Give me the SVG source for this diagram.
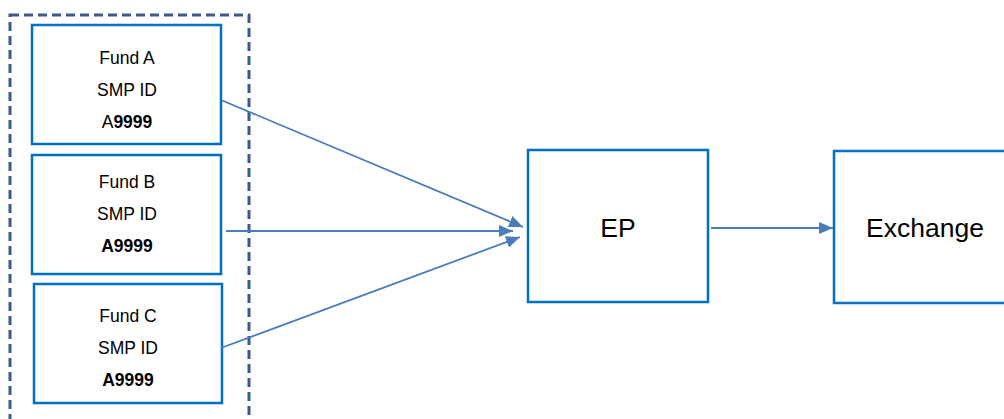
<svg xmlns="http://www.w3.org/2000/svg" width="1004" height="419" viewBox="0 0 1004 419">
<defs>
<marker id="ah" viewBox="0 0 14 12" refX="14" refY="6" markerWidth="14" markerHeight="12" markerUnits="userSpaceOnUse" orient="auto">
<path d="M0,0 L14,6 L0,12 Z" fill="#4a7ebb"/>
</marker>
<style>
.box{fill:#fff;stroke:#0070c0;stroke-width:2.5}
.grp{fill:none;stroke:#3d5a8a;stroke-width:3;stroke-dasharray:9,5}
.t{font-family:"Liberation Sans",Arial,sans-serif;font-size:17.5px;fill:#000;text-anchor:middle}
.b{font-weight:bold}
.big{font-family:"Liberation Sans",Arial,sans-serif;font-size:26.5px;fill:#000;text-anchor:middle}
.c{stroke:#4a7ebb;stroke-width:1.8;fill:none;marker-end:url(#ah)}
</style>
</defs>
<rect width="1004" height="419" fill="#fff"/>
<g id="group">
<rect class="grp" x="10" y="15" width="239" height="420"/>
</g>
<g id="fundA">
<rect class="box" x="32" y="25" width="189" height="119"/>
<text class="t" x="127" y="64">Fund A</text>
<text class="t" x="127" y="96">SMP ID</text>
<text class="t" x="127" y="128">A<tspan class="b">9999</tspan></text>
</g>
<g id="fundB">
<rect class="box" x="32" y="155" width="189" height="119"/>
<text class="t" x="127" y="188">Fund B</text>
<text class="t" x="127" y="220">SMP ID</text>
<text class="t b" x="127" y="252">A9999</text>
</g>
<g id="fundC">
<rect class="box" x="34" y="284" width="188" height="119"/>
<text class="t" x="128" y="322">Fund C</text>
<text class="t" x="128" y="354">SMP ID</text>
<text class="t b" x="128" y="386">A9999</text>
</g>
<g id="ep">
<rect class="box" x="528" y="150" width="180" height="152"/>
<text class="big" x="618" y="237">EP</text>
</g>
<g id="exchange">
<rect class="box" x="834" y="151" width="180" height="152"/>
<text class="big" x="925" y="237">Exchange</text>
</g>
<g id="connectors">
<line class="c" x1="221" y1="100" x2="523" y2="227"/>
<line class="c" x1="226" y1="231" x2="513" y2="231"/>
<line class="c" x1="221" y1="348" x2="520" y2="237"/>
<line class="c" x1="711" y1="228" x2="833" y2="228"/>
</g>
</svg>
